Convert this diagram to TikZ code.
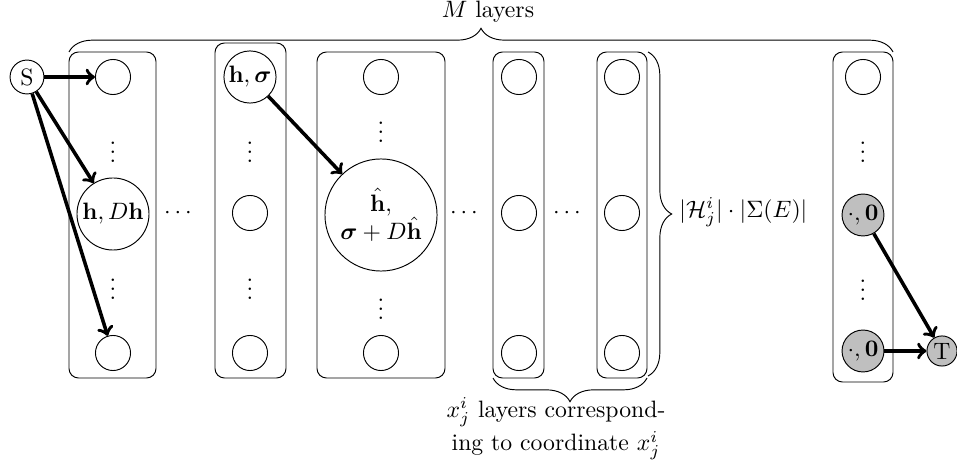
\documentclass[tikz,border=0pt]{standalone}
\usepackage{amsmath,amssymb}
\usetikzlibrary{decorations.pathreplacing}

\begin{document}
\begin{tikzpicture}[x=0.422pt,y=-0.422pt,
  vert/.style={draw,circle,inner sep=0pt,minimum size=14.8pt},
  term/.style={draw,circle,inner sep=0pt,fill=gray!50},
  layerbox/.style={draw,rounded corners=4pt},
  edge/.style={->,line width=1.5pt},
  brc/.style={decorate,decoration={brace,amplitude=10pt}},
  dotsnode/.style={inner sep=0pt,anchor=base},
]
\useasboundingbox (0,0) rectangle (957,462);

% layer boxes
\draw[layerbox] (69,52) rectangle (156,378);
\draw[layerbox] (215,43) rectangle (286,378);
\draw[layerbox] (317,52) rectangle (445,378);
\draw[layerbox] (493,52) rectangle (544,378);
\draw[layerbox] (597,52) rectangle (647,378);
\draw[layerbox] (833,52) rectangle (893,382);

% source
\node[vert,minimum size=14.3pt] (S) at (27,77) {S};

% first layer
\node[vert] (a1) at (113,77) {};
\node[vert,minimum size=30.4pt] (a2) at (113,214) {$\mathbf{h}, D\mathbf{h}$};
\node[vert] (a3) at (113,353) {};
\node[dotsnode] (a12) at (113,163) {$\vdots$};
\node[dotsnode] (a23) at (113,300) {$\vdots$};

\node[dotsnode] (g1) at (180,219) {$\cdots$};

% second layer
\node[vert,minimum size=22pt] (b1) at (250,77) {$\mathbf{h}, \boldsymbol{\sigma}$};
\node[vert] (b2) at (250,213) {};
\node[vert] (b3) at (250,353) {};
\node[dotsnode] (b12) at (250,163) {$\vdots$};
\node[dotsnode] (b23) at (250,300) {$\vdots$};

% third layer
\node[vert] (c1) at (381,77) {};
\node[vert,minimum size=47.3pt,align=center] (c2) at (381,215)
  {$\hat{\mathbf{h}},$\\$\boldsymbol{\sigma} + D\hat{\mathbf{h}}$};
\node[vert] (c3) at (381,353) {};
\node[dotsnode] (c12) at (381,143) {$\vdots$};
\node[dotsnode] (c23) at (381,320) {$\vdots$};

\node[dotsnode] (g2) at (466,219) {$\cdots$};

% layers of one coordinate
\node[vert] (d1) at (519,77) {};
\node[vert] (d2) at (519,213) {};
\node[vert] (d3) at (519,353) {};

\node[dotsnode] (g3) at (569,219) {$\cdots$};

\node[vert] (e1) at (622,77) {};
\node[vert] (e2) at (622,213) {};
\node[vert] (e3) at (622,353) {};

% last layer
\node[vert] (f1) at (863,77) {};
\node[vert,term,minimum size=17.7pt] (f2) at (863,215) {$\cdot, \mathbf{0}$};
\node[vert,term,minimum size=17.7pt] (f3) at (863,351) {$\cdot, \mathbf{0}$};
\node[dotsnode] (f12) at (863,163) {$\vdots$};
\node[dotsnode] (f23) at (863,301) {$\vdots$};

% sink
\node[vert,term,minimum size=12.7pt] (T) at (942,351) {T};

% edges
\draw[edge] (S) -- (a1);
\draw[edge] (S) -- (a2);
\draw[edge] (S) -- (a3);
\draw[edge] (b1) -- (c2);
\draw[edge] (f2) -- (T);
\draw[edge] (f3) -- (T);

% braces
\coordinate (tl) at (69,52);
\coordinate (tr) at (893,52);
\draw[brc] (tl) -- (tr);
\node[inner sep=0pt] (mlab) at (488,12) {$M$ layers};

\coordinate (rt) at (648,52);
\coordinate (rb) at (648,376);
\draw[brc] (rt) -- (rb);
\node[inner sep=0pt,anchor=west] (hlab) at (679,212) {$|\mathcal{H}_j^i|\cdot|\Sigma(E)|$};

\coordinate (br) at (647,378);
\coordinate (bl) at (493,378);
\draw[brc] (br) -- (bl);
\node[inner sep=0pt,anchor=north,align=center] (xlab) at (556,397)
  {$x_j^i$ layers correspond-\\[1pt]ing to coordinate $x_j^i$};
\end{tikzpicture}
\end{document}
